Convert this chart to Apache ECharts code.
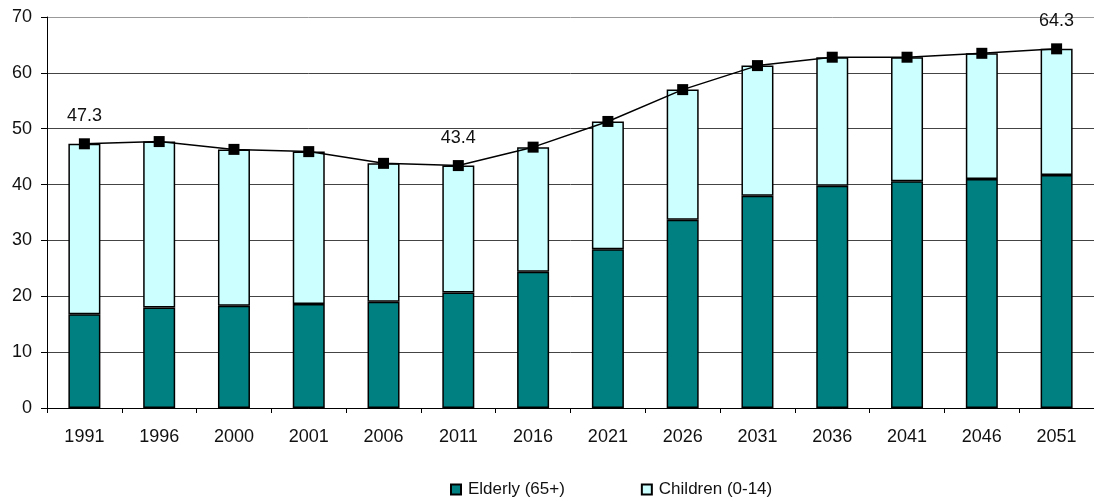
<!DOCTYPE html>
<html>
<head>
<meta charset="utf-8">
<script src="https://cdn.jsdelivr.net/npm/echarts@6/dist/echarts.min.js"></script>
<style>
  html, body { margin: 0; padding: 0; background: #fff; }
  #chart { width: 1094px; height: 501px; }
</style>
</head>
<body>
<div id="chart"></div>
<script>
// Census years and projections
const years = ['1991', '1996', '2000', '2001', '2006', '2011', '2016', '2021', '2026', '2031', '2036', '2041', '2046', '2051'];
// Elderly (65+) component
const elderly = [16.8, 18.0, 18.3, 18.6, 19.0, 20.7, 24.4, 28.4, 33.7, 38.0, 39.8, 40.6, 41.0, 41.7];
// Children (0-14) component
const children = [30.5, 29.7, 28.0, 27.3, 24.8, 22.7, 22.3, 22.9, 23.3, 23.3, 23.0, 22.2, 22.5, 22.6];
// Total dependency ratio
const total = [47.3, 47.7, 46.3, 45.9, 43.8, 43.4, 46.7, 51.3, 57.0, 61.3, 62.8, 62.8, 63.5, 64.3];
// Years whose total is printed above the line
const labelledYears = ['1991', '2011', '2051'];

const FONT = 'Liberation Sans, Arial, sans-serif';

const chart = echarts.init(document.getElementById('chart'), null, { renderer: 'canvas' });

const lineData = total.map((v, i) => {
  const item = { value: v };
  if (labelledYears.includes(years[i])) {
    item.label = {
      show: true,
      position: 'top',
      distance: 13,
      formatter: (p) => p.value.toFixed(1),
      color: '#111',
      fontFamily: FONT,
      fontSize: 18
    };
  }
  return item;
});

chart.setOption({
  animation: false,
  backgroundColor: '#fff',
  grid: { left: 47, right: -3, top: 17, bottom: 93, containLabel: false },
  legend: {
    data: ['Elderly (65+)', 'Children (0-14)'],
    left: 445,
    top: 476,
    itemWidth: 10,
    itemHeight: 10,
    itemGap: 76,
    icon: 'rect',
    textStyle: { fontFamily: FONT, fontSize: 17, color: '#111', padding: [0, 0, 0, 2] }
  },
  xAxis: {
    type: 'category',
    data: years,
    boundaryGap: true,
    axisLine: { show: true, lineStyle: { color: '#000', width: 1 } },
    axisTick: { show: true, length: 5, inside: false, lineStyle: { color: '#000' } },
    axisLabel: { margin: 20, color: '#111', fontFamily: FONT, fontSize: 18 },
    splitLine: { show: false }
  },
  yAxis: {
    type: 'value',
    min: 0,
    max: 70,
    interval: 10,
    axisLine: { show: true, lineStyle: { color: '#000', width: 1 } },
    axisTick: { show: true, length: 6, lineStyle: { color: '#000' } },
    axisLabel: { margin: 15, color: '#111', fontFamily: FONT, fontSize: 18 },
    splitLine: {
      show: true,
      lineStyle: {
        color: ['#000', '#444', '#444', '#444', '#444', '#444', '#444', '#999'],
        width: 1
      }
    }
  },
  series: [
    {
      name: 'Elderly (65+)',
      type: 'bar',
      stack: 'ratio',
      data: elderly,
      barWidth: 32,
      itemStyle: { color: '#008080', borderColor: '#000', borderWidth: 1.5 }
    },
    {
      name: 'Children (0-14)',
      type: 'bar',
      stack: 'ratio',
      data: children,
      barWidth: 32,
      itemStyle: { color: '#CCFFFF', borderColor: '#000', borderWidth: 1.5 }
    },
    {
      name: 'Total',
      type: 'line',
      data: lineData,
      symbol: 'rect',
      symbolSize: 11,
      showAllSymbol: true,
      lineStyle: { color: '#000', width: 1.5 },
      itemStyle: { color: '#000' },
      z: 5
    }
  ]
});
</script>
</body>
</html>
